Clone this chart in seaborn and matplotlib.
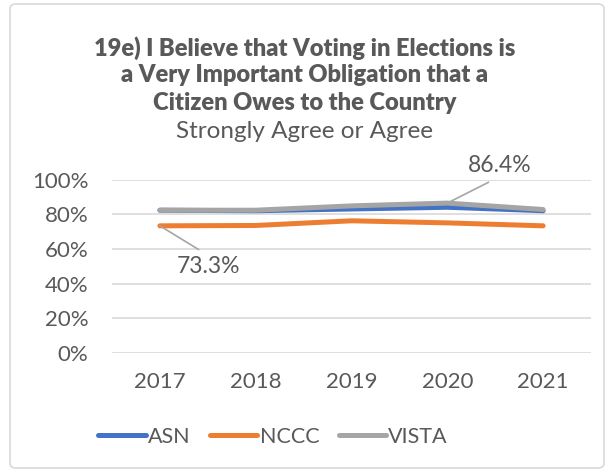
import matplotlib
matplotlib.use("Agg")
import matplotlib.pyplot as plt
import seaborn as sns
import pandas as pd
from matplotlib.patches import FancyBboxPatch

years = ["2017", "2018", "2019", "2020", "2021"]
asn = [0.823, 0.820, 0.830, 0.840, 0.820]
nccc = [0.733, 0.735, 0.762, 0.750, 0.733]
vista = [0.823, 0.823, 0.848, 0.864, 0.827]
series_names = ["ASN", "NCCC", "VISTA"]
colors = ["#4472C4", "#ED7D31", "#A5A5A5"]

rows = []
for name, vals in zip(series_names, [asn, nccc, vista]):
    for i, (y, v) in enumerate(zip(years, vals)):
        rows.append({"pos": i, "year": y, "value": v, "series": name})
df = pd.DataFrame(rows)

sns.set_theme(style="white")
plt.rcParams["font.family"] = ["Lato", "DejaVu Sans"]
text_color = "#595959"

fig = plt.figure(figsize=(6.10, 4.72), dpi=100)
ax = fig.add_axes([112/610, 1-353/472, (591-112)/610, (353-179.5)/472])

for y in [0, 0.2, 0.4, 0.6, 0.8, 1.0]:
    ax.axhline(y, color="#D9D9D9", lw=1.2, zorder=0)

sns.lineplot(data=df, x="pos", y="value", hue="series", palette=colors,
             hue_order=series_names, ax=ax, lw=3.6, legend=True,
             solid_capstyle="round")
for line, lw in zip(ax.lines[-3:], [3.2, 3.8, 4.4]):
    line.set_linewidth(lw)

ax.set_xlim(-0.5, 4.5)
ax.set_ylim(0, 1.0)
ax.set_xticks(range(len(years)))
ax.set_xticklabels(years)
ax.set_yticks([0, 0.2, 0.4, 0.6, 0.8, 1.0])
ax.set_yticklabels(["0%", "20%", "40%", "60%", "80%", "100%"])
ax.tick_params(axis="both", labelsize=16, colors=text_color, length=0)
ax.tick_params(axis="y", pad=17)
ax.tick_params(axis="x", pad=14)
ax.set_xlabel("")
ax.set_ylabel("")
for s in ax.spines.values():
    s.set_visible(False)

# data labels
ax.annotate(f"{vista[3]*100:.1f}%", xy=(3, vista[3]), xytext=(3.55, 1.078),
            ha="center", va="center", fontsize=16.5, color=text_color,
            arrowprops=dict(arrowstyle="-", color="#A5A5A5", lw=1.2,
                            relpos=(0.5, 0), shrinkA=4, shrinkB=3),
            annotation_clip=False)
ax.annotate(f"{nccc[0]*100:.1f}%", xy=(0, nccc[0]), xytext=(0.51, 0.50),
            ha="center", va="center", fontsize=16.5, color=text_color,
            arrowprops=dict(arrowstyle="-", color="#A5A5A5", lw=1.2,
                            relpos=(0.5, 1), shrinkA=4, shrinkB=0))

handles, labels = ax.get_legend_handles_labels()
ax.get_legend().remove()
leg = fig.legend(handles, labels, loc="center", bbox_to_anchor=(273/610, 1-437/472),
                 ncol=3, frameon=False, fontsize=15.5, handlelength=2.2,
                 handletextpad=0.1, columnspacing=0.9)
for t in leg.get_texts():
    t.set_color(text_color)
for h in leg.get_lines():
    h.set_linewidth(3.6)
    h.set_solid_capstyle("round")

title_kw = dict(ha="center", va="center", fontsize=17, fontweight="heavy",
                color=text_color)
fig.text(0.5, 1-48/472, "19e) I Believe that Voting in Elections is", **title_kw)
fig.text(0.5, 1-75/472, "a Very Important Obligation that a", **title_kw)
fig.text(0.5, 1-103/472, "Citizen Owes to the Country", **title_kw)
fig.text(0.5, 1-132/472, "Strongly Agree or Agree", ha="center",
         va="center", fontsize=17.5, color=text_color)

border = FancyBboxPatch((10/610, 4/472), 594/610, 464/472,
                        boxstyle="round,pad=0,rounding_size=0.01",
                        transform=fig.transFigure, fill=False,
                        edgecolor="#D9D9D9", lw=1.2)
fig.patches.append(border)

fig.savefig("out.png", dpi=100)
